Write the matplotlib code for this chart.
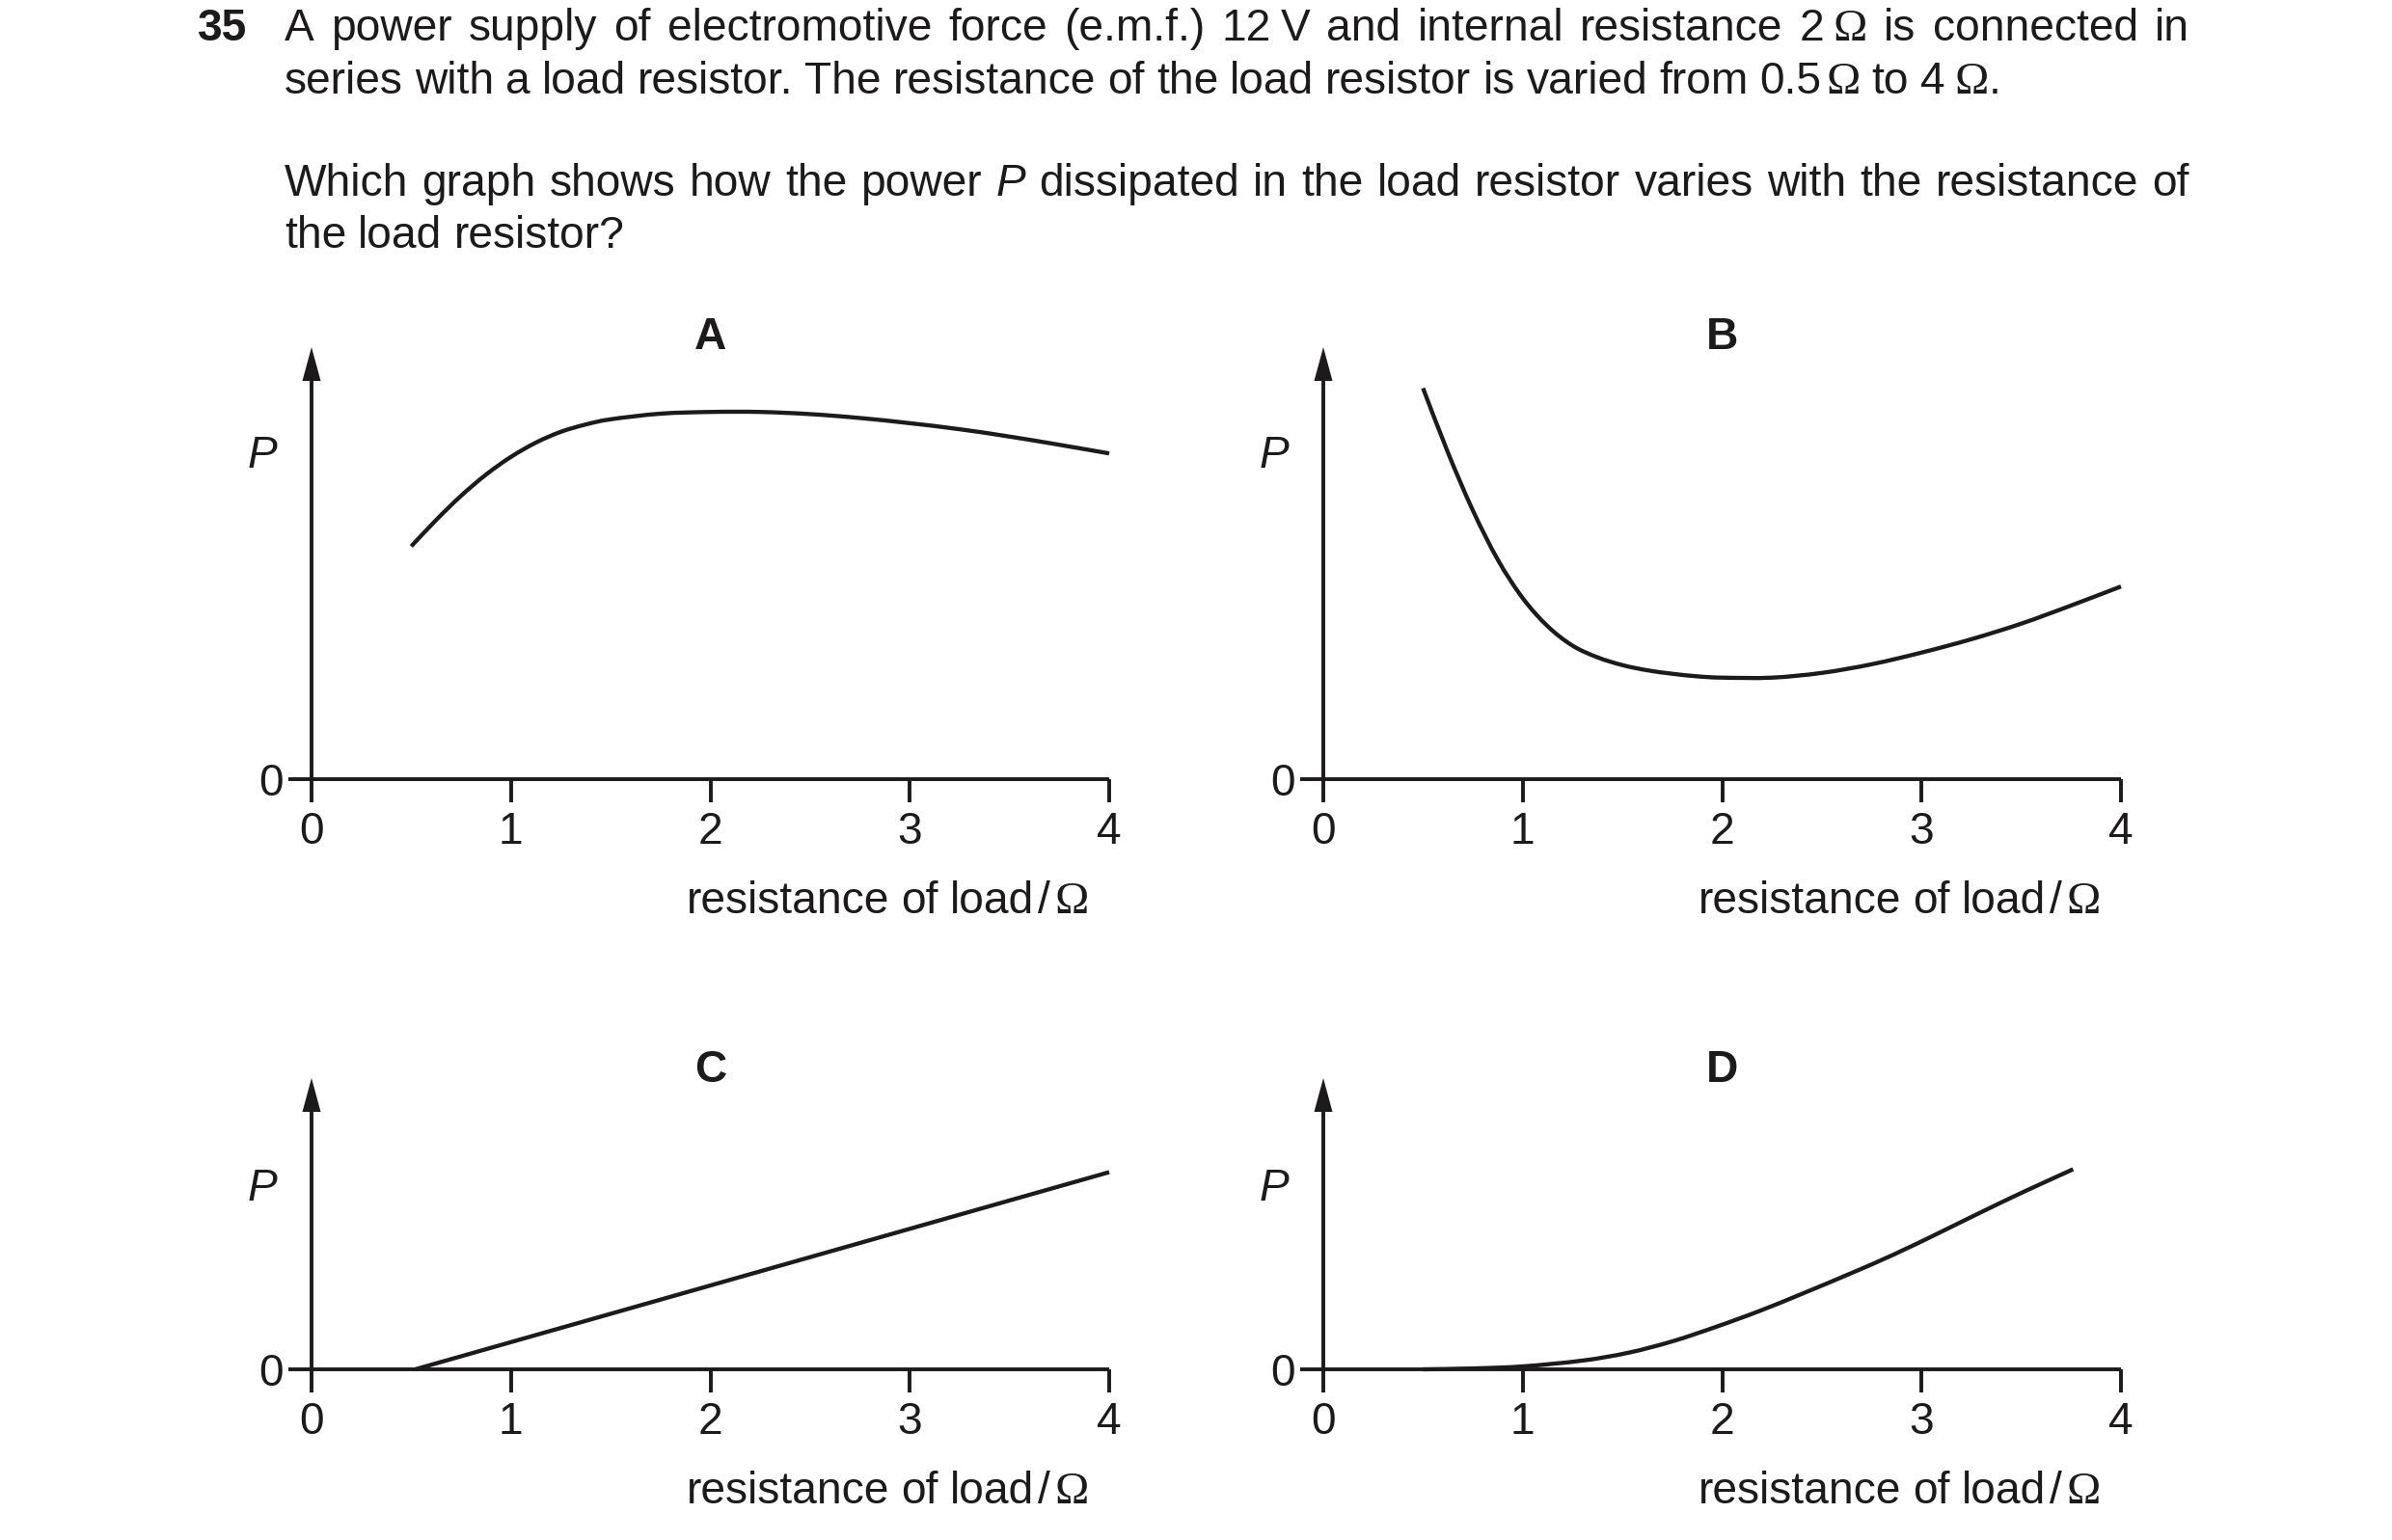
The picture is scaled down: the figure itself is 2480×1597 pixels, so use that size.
import matplotlib
matplotlib.use("Agg")
import matplotlib.pyplot as plt
from matplotlib.font_manager import FontProperties
from matplotlib.path import Path
from matplotlib.patches import PathPatch

# ---- values (P in arbitrary units, axis top = 10) ----
r_ticks = [0, 1, 2, 3, 4]
panel_letters = ["A", "B", "C", "D"]

r_a = [0.50, 0.625, 0.75, 0.875, 1.00, 1.125, 1.25, 1.375, 1.50, 1.75, 2.00,
       2.25, 2.50, 2.75, 3.00, 3.25, 3.50, 3.75, 4.00]
p_a = [5.39, 6.00, 6.56, 7.05, 7.46, 7.79, 8.04, 8.21, 8.33, 8.46, 8.50,
       8.50, 8.45, 8.36, 8.24, 8.10, 7.93, 7.74, 7.54]

r_b = [0.50, 0.625, 0.75, 0.875, 1.00, 1.125, 1.25, 1.375, 1.50, 1.625, 1.75,
       1.875, 2.00, 2.25, 2.50, 2.75, 3.00, 3.25, 3.50, 3.75, 4.00]
p_b = [9.05, 7.56, 6.22, 5.08, 4.19, 3.54, 3.09, 2.82, 2.64, 2.52, 2.44,
       2.38, 2.35, 2.35, 2.46, 2.66, 2.93, 3.24, 3.60, 4.02, 4.46]

r_c = [0.52, 4.00]
p_c = [0.00, 6.77]

r_d = [0.50, 0.75, 1.00, 1.30, 1.53, 1.75, 1.97, 2.19, 2.41, 2.64, 2.86, 3.08,
       3.30, 3.52, 3.76]
p_d = [0.00, 0.03, 0.10, 0.30, 0.57, 0.96, 1.46, 2.01, 2.62, 3.28, 3.94, 4.66,
       5.40, 6.12, 6.87]

question_no = "35"
text_lines = [
    "A power supply of electromotive force (e.m.f.) 12~V and internal resistance 2~Ω is connected in",
    "series with a load resistor. The resistance of the load resistor is varied from 0.5^Ω to 4~Ω.",
    "Which graph shows how the power *P* dissipated in the load resistor varies with the resistance of",
    "the load resistor?",
]
x_label = "resistance of load^/^Ω"

W, H = 2480, 1597
INK = "#1c1a1b"
FS = 33.2
EM = FS * 100 / 72

fig = plt.figure(figsize=(W / 100, H / 100), dpi=100)
fig.patch.set_facecolor("white")
renderer = fig.canvas.get_renderer()

fonts = {
    "n": FontProperties(family="Liberation Sans", size=FS),
    "i": FontProperties(family="Liberation Sans", size=FS, style="italic"),
    "b": FontProperties(family="Liberation Sans", size=FS, weight="bold"),
    "s": FontProperties(family="Liberation Serif", size=FS + 1),
}
gaps = {"~": 0.2, "^": 0.1}


def fx(x):
    return x / W


def fy(y):
    return 1 - y / H


def words(line):
    out = []
    for w in line.split(" "):
        segs, buf, italic = [], "", False
        for ch in w:
            if ch in "Ω*~^":
                if buf:
                    segs.append((buf, "i" if italic else "n"))
                    buf = ""
                if ch == "Ω":
                    segs.append(("Ω", "s"))
                elif ch == "*":
                    italic = not italic
                else:
                    segs.append((gaps[ch], "gap"))
            else:
                buf += ch
        if buf:
            segs.append((buf, "i" if italic else "n"))
        out.append(segs)
    return out


def seg_width(s, st):
    if st == "gap":
        return s * EM
    t = fig.text(0, 0, s, fontproperties=fonts[st])
    w = t.get_window_extent(renderer).width
    t.remove()
    return w


def word_width(w):
    return sum(seg_width(s, st) for s, st in w)


def draw_line(ws, y, x0, x1=None):
    widths = [word_width(w) for w in ws]
    if x1 is None:
        gap = 0.26 * EM
    else:
        gap = (x1 - x0 - sum(widths)) / (len(ws) - 1)
    x = x0
    for w, wd in zip(ws, widths):
        xx = x
        for s, st in w:
            if st != "gap":
                fig.text(fx(xx), fy(y), s, fontproperties=fonts[st], color=INK,
                         ha="left", va="baseline")
            xx += seg_width(s, st)
        x += wd + gap


def smooth_path(xs, ys):
    # Catmull-Rom style bezier through the read points
    pts = list(zip(xs, ys))
    ext = [pts[0]] + pts + [pts[-1]]
    verts, codes = [pts[0]], [Path.MOVETO]
    for i in range(1, len(ext) - 2):
        p0, p1, p2, p3 = ext[i - 1], ext[i], ext[i + 1], ext[i + 2]
        c1 = (p1[0] + (p2[0] - p0[0]) / 6, p1[1] + (p2[1] - p0[1]) / 6)
        c2 = (p2[0] - (p3[0] - p1[0]) / 6, p2[1] - (p3[1] - p1[1]) / 6)
        verts += [c1, c2, p2]
        codes += [Path.CURVE4] * 3
    return Path(verts, codes)


# ---- question text ----
fig.text(fx(256), fy(42), question_no, fontproperties=fonts["b"], color=INK,
         ha="right", va="baseline")
baselines = [42, 97, 203, 257]
justified = [True, False, True, False]
for line, yb, jus in zip(text_lines, baselines, justified):
    draw_line(words(line), yb, 295, 2270 if jus else None)

# ---- the four graphs ----
panels = [
    (323, 808, 448, r_a, p_a),
    (1372, 808, 448, r_b, p_b),
    (323, 1420, 302, r_c, p_c),
    (1372, 1420, 302, r_d, p_d),
]
AW = 827
LW = 2.8

for letter, (x0, zero, ht, rr, pp) in zip(panel_letters, panels):
    ax = fig.add_axes([fx(x0), fy(zero), AW / W, ht / H])
    ax.set_xlim(0, 4)
    ax.set_ylim(0, 10)
    ax.patch.set_alpha(0)
    for side in ["top", "right"]:
        ax.spines[side].set_visible(False)
    for side in ["left", "bottom"]:
        ax.spines[side].set_linewidth(LW)
        ax.spines[side].set_color(INK)
        ax.spines[side].set_capstyle("butt")
    ax.spines["left"].set_bounds(0, 9.5)

    ax.set_xticks(r_ticks)
    ax.set_xticklabels([str(t) for t in r_ticks])
    ax.set_yticks([0])
    ax.set_yticklabels(["0"])
    ax.tick_params(axis="both", direction="out", length=17, width=LW, color=INK,
                   labelcolor=INK)
    ax.tick_params(axis="x", pad=7)
    ax.tick_params(axis="y", pad=4)
    for lab in ax.get_xticklabels() + ax.get_yticklabels():
        lab.set_fontproperties(fonts["n"])

    # arrow head on the P axis
    hw = 9.5 / AW
    hl = 35 / ht
    ax.fill([0, -hw, hw], [1, 1 - hl, 1 - hl], color=INK, transform=ax.transAxes,
            clip_on=False, lw=0)

    ax.add_patch(PathPatch(smooth_path(rr, pp), fill=False, edgecolor=INK,
                           lw=3.1, capstyle="butt", joinstyle="round", clip_on=False))

    ax.text(-51 / AW, 1 - (ht - (335 if ht > 400 else 187)) / ht, "P",
            fontproperties=fonts["i"], color=INK, transform=ax.transAxes,
            ha="center", va="center")
    ax.text(0.5, 1 + (10 if ht > 400 else 8) / ht, letter, fontproperties=fonts["b"],
            color=INK, transform=ax.transAxes, ha="center", va="center")

    lw_words = words(x_label)
    total = sum(word_width(w) for w in lw_words) + 0.26 * EM * (len(lw_words) - 1)
    cx = x0 + 2.89 * AW / 4
    draw_line(lw_words, zero + 139, cx - total / 2)

fig.savefig("out.png", dpi=100, facecolor="white")
